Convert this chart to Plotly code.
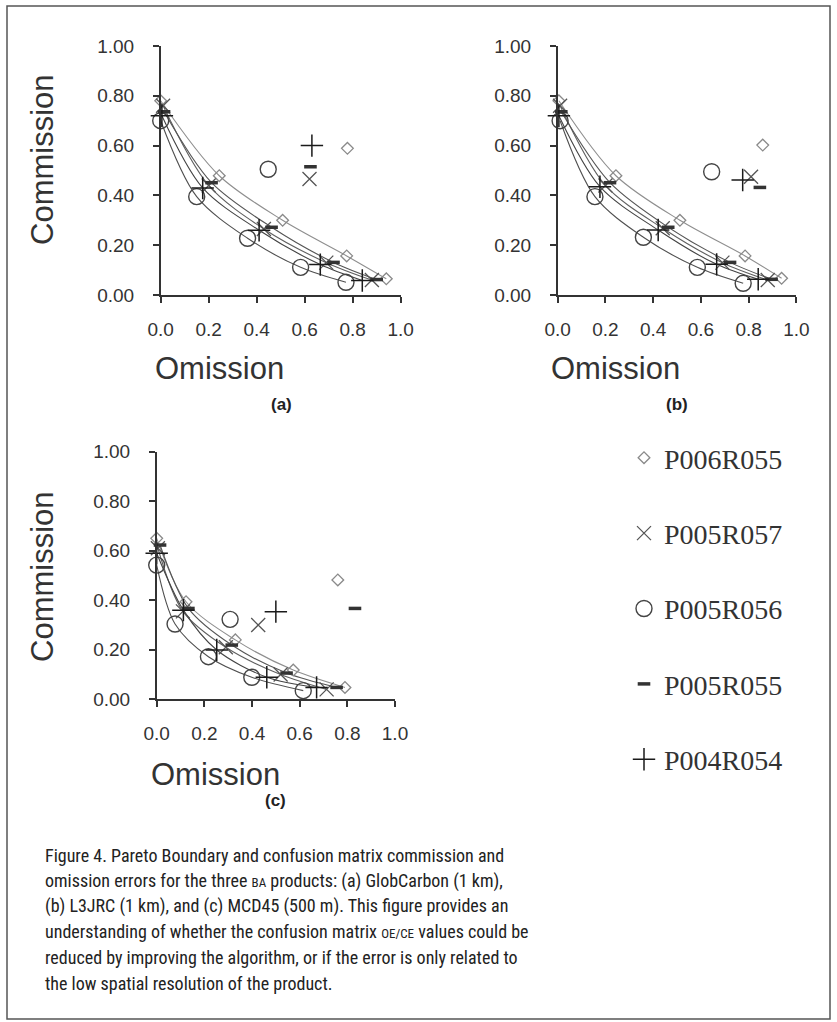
import plotly.graph_objects as go

W, H = 837, 1022

# ---------------- data ----------------
SERIES = ["P006R055", "P005R057", "P005R056", "P005R055", "P004R054"]

# Panel (a) GlobCarbon: Pareto boundary points (omission, commission)
a_P006R055_om = [0.00, 0.244, 0.508, 0.775, 0.94]
a_P006R055_co = [0.78, 0.479, 0.300, 0.157, 0.065]
a_P005R057_om = [0.01, 0.20, 0.43, 0.69, 0.88]
a_P005R057_co = [0.76, 0.440, 0.265, 0.130, 0.060]
a_P005R056_om = [0.00, 0.15, 0.362, 0.583, 0.772]
a_P005R056_co = [0.70, 0.395, 0.228, 0.111, 0.051]
a_P005R055_om = [0.014, 0.212, 0.462, 0.720, 0.90]
a_P005R055_co = [0.736, 0.451, 0.272, 0.131, 0.062]
a_P004R054_om = [0.005, 0.175, 0.41, 0.665, 0.84]
a_P004R054_co = [0.72, 0.430, 0.260, 0.122, 0.058]
# Panel (a) confusion matrix points, in SERIES order
a_cm_om = [0.778, 0.62, 0.448, 0.624, 0.63]
a_cm_co = [0.589, 0.466, 0.505, 0.515, 0.600]

# Panel (b) L3JRC
b_P006R055_om = [0.005, 0.244, 0.512, 0.785, 0.938]
b_P006R055_co = [0.78, 0.479, 0.300, 0.157, 0.067]
b_P005R057_om = [0.01, 0.20, 0.44, 0.69, 0.88]
b_P005R057_co = [0.76, 0.440, 0.268, 0.130, 0.060]
b_P005R056_om = [0.01, 0.156, 0.359, 0.585, 0.777]
b_P005R056_co = [0.70, 0.395, 0.232, 0.111, 0.047]
b_P005R055_om = [0.015, 0.219, 0.463, 0.722, 0.896]
b_P005R055_co = [0.736, 0.451, 0.272, 0.131, 0.063]
b_P004R054_om = [0.005, 0.177, 0.421, 0.666, 0.84]
b_P004R054_co = [0.72, 0.435, 0.261, 0.123, 0.063]
b_cm_om = [0.859, 0.81, 0.645, 0.847, 0.775]
b_cm_co = [0.602, 0.475, 0.495, 0.432, 0.462]

# Panel (c) MCD45
c_P006R055_om = [0.00, 0.123, 0.33, 0.573, 0.79]
c_P006R055_co = [0.65, 0.394, 0.240, 0.118, 0.048]
c_P005R057_om = [0.005, 0.11, 0.29, 0.52, 0.713]
c_P005R057_co = [0.61, 0.355, 0.210, 0.100, 0.040]
c_P005R056_om = [0.00, 0.077, 0.217, 0.399, 0.615]
c_P005R056_co = [0.542, 0.304, 0.172, 0.089, 0.035]
c_P005R055_om = [0.014, 0.133, 0.315, 0.545, 0.755]
c_P005R055_co = [0.623, 0.367, 0.219, 0.106, 0.048]
c_P004R054_om = [0.00, 0.112, 0.252, 0.462, 0.671]
c_P004R054_co = [0.59, 0.360, 0.199, 0.089, 0.048]
c_cm_om = [0.76, 0.426, 0.308, 0.832, 0.50]
c_cm_co = [0.482, 0.300, 0.323, 0.367, 0.354]

X_TICKS = [0.0, 0.2, 0.4, 0.6, 0.8, 1.0]
Y_TICKS = [0.0, 0.2, 0.4, 0.6, 0.8, 1.0]

CAPTION_LINES = [
    "Figure 4. Pareto Boundary and confusion matrix commission and",
    "omission errors for the three <span style='font-size:13px'>BA</span> products: (a) GlobCarbon (1 km),",
    "(b) L3JRC (1 km), and (c) MCD45 (500 m). This figure provides an",
    "understanding of whether the confusion matrix <span style='font-size:13px'>OE/CE</span> values could be",
    "reduced by improving the algorithm, or if the error is only related to",
    "the low spatial resolution of the product.",
]

# ---------------- styles ----------------
STYLE = {
    "P006R055": dict(symbol="diamond-open", size=9, color="#8a8a8a", width=1.3, line="#8f8f8f"),
    "P005R057": dict(symbol="x-thin-open", size=14, color="#555555", width=1.3, line="#606060"),
    "P005R056": dict(symbol="circle-open", size=16, color="#444444", width=1.4, line="#505050"),
    "P005R055": dict(symbol="line-ew-open", size=9, color="#333333", width=3.5, line="#555555"),
    "P004R054": dict(symbol="cross-thin-open", size=16, color="#1a1a1a", width=1.5, line="#444444"),
}

g = globals()
panels = [
    ("a", "x", "y"),
    ("b", "x2", "y2"),
    ("c", "x3", "y3"),
]

fig = go.Figure()

# curves first
for p, xa, ya in panels:
    for s in SERIES:
        st = STYLE[s]
        fig.add_trace(go.Scatter(
            x=g[f"{p}_{s}_om"], y=g[f"{p}_{s}_co"], mode="lines",
            line=dict(color=st["line"], width=1.1, shape="spline", smoothing=0.9),
            xaxis=xa, yaxis=ya, showlegend=False, hoverinfo="skip",
            legendgroup=s,
        ))

# markers
for p, xa, ya in panels:
    cm_om = g[f"{p}_cm_om"]
    cm_co = g[f"{p}_cm_co"]
    for i, s in enumerate(SERIES):
        st = STYLE[s]
        xs = list(g[f"{p}_{s}_om"]) + [cm_om[i]]
        ys = list(g[f"{p}_{s}_co"]) + [cm_co[i]]
        fig.add_trace(go.Scatter(
            x=xs, y=ys, mode="markers", name=s, legendgroup=s,
            showlegend=(p == "a"),
            marker=dict(symbol=st["symbol"], size=st["size"], color=st["color"],
                        line=dict(color=st["color"], width=st["width"])),
            xaxis=xa, yaxis=ya, cliponaxis=False,
        ))


def fx(px):
    return px / W


def fy(px):
    return 1 - px / H


tickfont = dict(family="Liberation Sans, Arial, sans-serif", size=19, color="#333333")
axis_common = dict(
    range=[0, 1], showline=True, linecolor="#333333", linewidth=1.5,
    ticks="outside", ticklen=6, tickwidth=1.5, tickcolor="#333333",
    showgrid=False, zeroline=False, tickfont=tickfont, fixedrange=True,
    automargin=False,
)

domains = {
    "a": ((160.7, 400.7), (46, 295)),
    "b": ((557.7, 796.4), (46, 295)),
    "c": ((156.7, 395.0), (451.7, 699.3)),
}
layout_axes = {}
for p, xa, ya in panels:
    (x0, x1), (y0, y1) = domains[p]
    xk = "xaxis" + xa[1:]
    yk = "yaxis" + ya[1:]
    layout_axes[xk] = dict(axis_common, domain=[fx(x0), fx(x1)], anchor=ya,
                           tickvals=X_TICKS, tickformat=".1f", ticklabelstandoff=10)
    layout_axes[yk] = dict(axis_common, domain=[fy(y1), fy(y0)], anchor=xa,
                           tickvals=Y_TICKS, tickformat=".2f", ticklabelstandoff=15)

fig.update_layout(**layout_axes)

ann = []
title_font = dict(family="Liberation Sans, Arial, sans-serif", size=31, color="#333333")
for (xc, yc) in [(219, 368), (615, 368), (215, 774)]:
    ann.append(dict(text="Omission", x=fx(xc), y=fy(yc), xref="paper", yref="paper",
                    showarrow=False, xanchor="center", yanchor="middle", font=title_font))
for (xc, yc) in [(42, 160), (42, 577)]:
    ann.append(dict(text="Commission", x=fx(xc), y=fy(yc), xref="paper", yref="paper",
                    showarrow=False, xanchor="center", yanchor="middle", textangle=-90,
                    font=title_font))
lab_font = dict(family="Liberation Sans, Arial, sans-serif", size=17, color="#222222")
for t, (xc, yc) in [("(a)", (281, 404)), ("(b)", (677, 404)), ("(c)", (275, 800))]:
    ann.append(dict(text=f"<b>{t}</b>", x=fx(xc), y=fy(yc), xref="paper", yref="paper",
                    showarrow=False, xanchor="center", yanchor="middle", font=lab_font))

cap_font = dict(family="Liberation Sans Narrow, Arial Narrow, Roboto Condensed, sans-serif",
                size=18, color="#222222")
for i, line in enumerate(CAPTION_LINES):
    ann.append(dict(text=line, x=fx(43), y=fy(855 + i * 25.6), xref="paper", yref="paper",
                    showarrow=False, xanchor="left", yanchor="middle", align="left",
                    font=cap_font))

fig.update_layout(
    width=W, height=H, margin=dict(l=0, r=0, t=0, b=0, pad=0, autoexpand=False),
    paper_bgcolor="white", plot_bgcolor="white",
    annotations=ann,
    shapes=[dict(type="rect", xref="paper", yref="paper",
                 x0=fx(7), x1=fx(830), y0=fy(1019), y1=fy(6),
                 line=dict(color="#555555", width=1.5), fillcolor="rgba(0,0,0,0)")],
    legend=dict(x=fx(624), y=fy(433), xanchor="left", yanchor="top",
                font=dict(family="Liberation Serif, Times New Roman, serif", size=28,
                          color="#333333"),
                tracegroupgap=36, bgcolor="rgba(0,0,0,0)", borderwidth=0,
                traceorder="grouped", itemwidth=30),
    showlegend=True,
)

fig.write_html(
    "out.html",
    config={"displayModeBar": False},
    post_script="document.body.style.margin='0';document.body.style.overflow='hidden';",
)
